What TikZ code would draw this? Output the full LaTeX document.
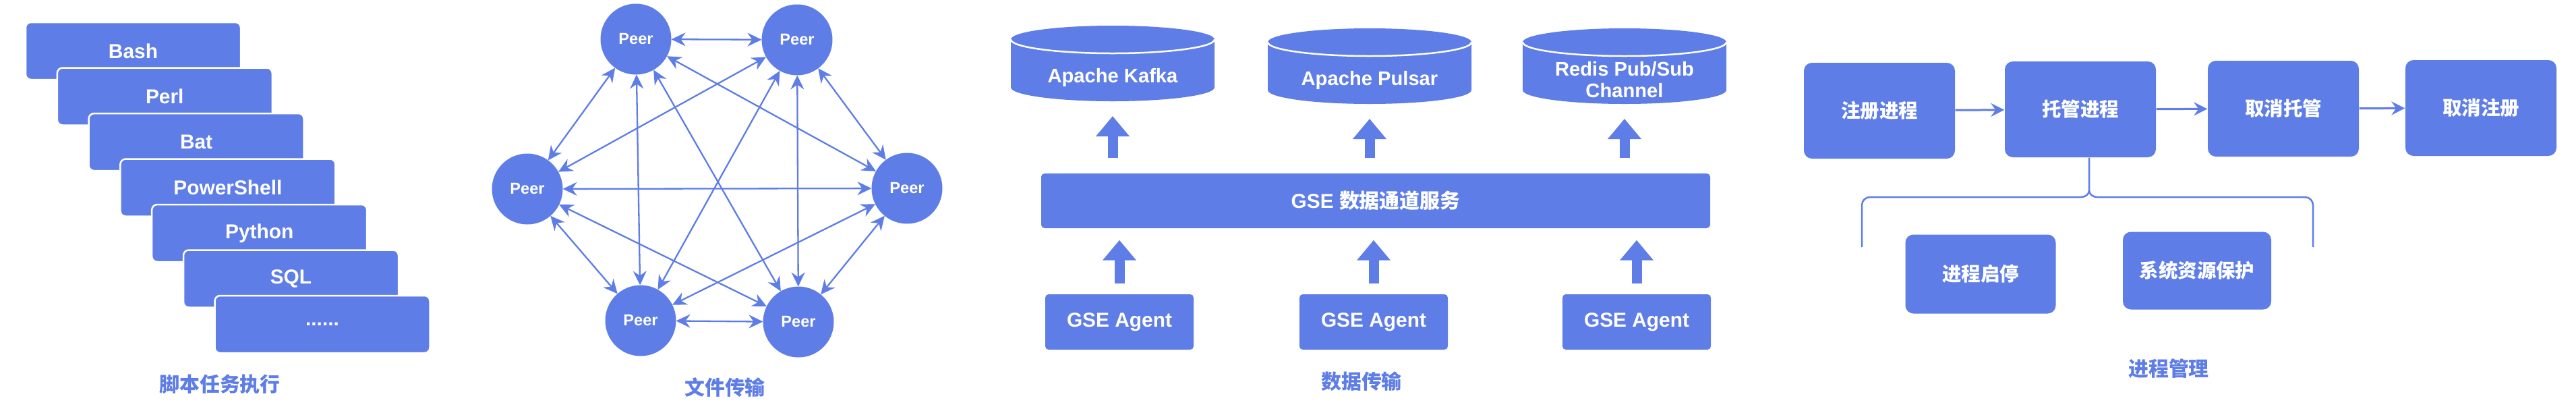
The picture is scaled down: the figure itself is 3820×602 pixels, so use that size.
\documentclass[tikz,border=0pt]{standalone}
\usepackage{fontspec}
\setmainfont{Liberation Sans}
\newfontfamily\cjk{Noto Sans CJK SC}
\usetikzlibrary{arrows.meta,backgrounds}
\definecolor{gseblue}{RGB}{94,125,230}

\tikzset{
  script/.style={fill=gseblue, draw=white, line width=0.25mm, rounded corners=0.8mm,
    minimum width=31.9mm, minimum height=8.5mm, inner sep=0pt, text=white,
    font=\bfseries\fontsize{8.5pt}{10pt}\selectfont},
  peer/.style={circle, fill=gseblue, minimum size=10.5mm, inner sep=0pt, outer sep=0pt,
    text=white, font=\bfseries\fontsize{6.7pt}{8pt}\selectfont},
  peerlink/.style={gseblue, line width=0.23mm, >={Stealth[length=2.1mm,width=2mm,inset=0.7mm]}, <->},
  db/.style={minimum width=30.2mm, minimum height=7.1mm, inner sep=0pt, outer sep=0pt,
    text=white, font=\bfseries\fontsize{8.3pt}{9.1pt}\selectfont},
  bus/.style={fill=gseblue, rounded corners=0.5mm, minimum width=99.2mm, minimum height=8.1mm,
    text=white, font=\bfseries\fontsize{8.5pt}{10pt}\selectfont},
  agent/.style={fill=gseblue, rounded corners=0.5mm, minimum width=22mm, minimum height=8.2mm,
    text=white, font=\bfseries\fontsize{8.5pt}{10pt}\selectfont},
  bigarrow/.style={gseblue, line width=1.5mm, -{Triangle[length=3mm,width=4.8mm]}},
  proc/.style={fill=gseblue, rounded corners=1.2mm, minimum width=22.4mm, minimum height=14.2mm,
    text=white, font=\cjk\bfseries\fontsize{8.1pt}{10pt}\selectfont},
  flow/.style={gseblue, line width=0.3mm, -{Stealth[length=2mm,width=2mm,inset=0.7mm]}},
  bracket/.style={gseblue, line width=0.25mm},
  caption/.style={text=gseblue, font=\cjk\bfseries\fontsize{8.5pt}{10pt}\selectfont},
}

\begin{document}
\begin{tikzpicture}[x=0.1mm,y=0.1mm]
    \path[use as bounding box] (0,0) rectangle (3820,-602);

    % scripts
    \foreach \lang [count=\i from 0] in {Bash,Perl,Bat,PowerShell,Python,SQL}
        \node[script] (script\i) at (197.5+46.8*\i,-75.5-67.5*\i) {\lang};
    \node[script] (script6) at (478,-480.5) {......};
    \node[caption] (scriptcap) at (326,-569) {脚本任务执行};

    % peers
    \node[peer] (tl) at (943,-58) {Peer};
    \node[peer] (tr) at (1182,-59) {Peer};
    \node[peer] (ml) at (782,-280) {Peer};
    \node[peer] (mr) at (1345,-279) {Peer};
    \node[peer] (bl) at (950,-475) {Peer};
    \node[peer] (br) at (1184,-477) {Peer};
    \foreach \a/\b in {tl/tr,tl/ml,tl/mr,tl/bl,tl/br,tr/ml,tr/mr,tr/bl,tr/br,ml/mr,ml/bl,ml/br,mr/bl,mr/br,bl/br}
        \draw[peerlink] (\a) -- (\b);
    \node[caption] (filecap) at (1075,-574) {文件传输};

    % data channel
    \node[db] (kafka) at (1650,-114.5) {Apache Kafka};
    \node[db] (pulsar) at (2031,-118.5) {Apache Pulsar};
    \node[db, align=center] (redis) at (2409,-118.5) {Redis Pub/Sub\\Channel};
    \begin{scope}[on background layer]
        \fill[white] (0,0) rectangle (3820,-602);
        \foreach \n in {kafka,pulsar,redis} {
            \fill[gseblue] ([yshift=2.05mm]\n.north west) -- ([yshift=2.05mm]\n.south west)
                arc[start angle=180, end angle=360, x radius=15.1mm, y radius=2.05mm]
                -- ([yshift=2.05mm]\n.north east)
                arc[start angle=0, end angle=180, x radius=15.1mm, y radius=2.05mm] -- cycle;
            \draw[white, line width=0.25mm] ([yshift=2.05mm]\n.north west)
                arc[start angle=180, end angle=360, x radius=15.1mm, y radius=2.05mm];
        }
    \end{scope}
    \node[bus] (gse) at (2040,-297.5) {GSE {\cjk 数据通道服务}};
    \node[agent] (agent1) at (1660,-477) {GSE Agent};
    \node[agent] (agent2) at (2037,-477) {GSE Agent};
    \node[agent] (agent3) at (2427,-477) {GSE Agent};
    \foreach \n in {1,2,3}
        \draw[bigarrow, shorten <=1.5mm, shorten >=1.7mm] (agent\n.north) -- (agent\n.north |- gse.south);
    \foreach \n in {kafka,pulsar,redis}
        \draw[bigarrow, shorten <=2.2mm, shorten >=2.2mm] (\n.south |- gse.north) -- (\n.south);
    \node[caption] (datacap) at (2019,-565) {数据传输};

    % process
    \node[proc] (reg) at (2787,-164) {注册进程};
    \node[proc] (host) at (3085,-162) {托管进程};
    \node[proc] (unhost) at (3386,-161) {取消托管};
    \node[proc] (unreg) at (3679,-160) {取消注册};
    \node[proc, minimum width=22.3mm, minimum height=11.7mm] (startstop) at (2937,-406) {进程启停};
    \node[proc, minimum width=22mm, minimum height=11.5mm] (protect) at (3258,-401) {系统资源保护};
    \draw[flow] (reg) -- (host);
    \draw[flow] (host) -- (unhost);
    \draw[flow] (unhost) -- (unreg);
    \coordinate (fork) at (3098,-282);
    \draw[bracket] ([xshift=1.3mm]host.south) -- (fork) to[out=-90,in=0] (3086,-292) -- (2773,-292)
        to[out=180,in=90] (2761,-304) -- (2761,-366);
    \draw[bracket] (fork) to[out=-90,in=180] (3110,-292) -- (3418,-292)
        to[out=0,in=90] (3430,-304) -- (3430,-366);
    \node[caption] (proccap) at (3216,-546) {进程管理};
\end{tikzpicture}
\end{document}
